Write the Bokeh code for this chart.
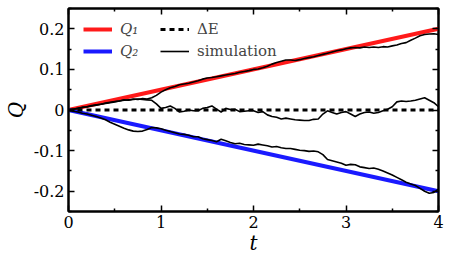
import numpy as np
from bokeh.plotting import figure
from bokeh.models import LinearAxis, FixedTicker, Legend, LegendItem, Range1d
from bokeh.embed import file_html
from bokeh.resources import INLINE

# ---- data ----
t_theory = [0.0, 4.0]
q1_theory = [0.0, 0.2]
q2_theory = [0.0, -0.2]
dE_theory = [0.0, 0.0]

t_sim = [round(0.05 * i, 2) for i in range(81)]
q1_sim = [0, 0.002, 0.004, 0.007, 0.008, 0.011, 0.013, 0.014, 0.017, 0.019,
          0.021, 0.022, 0.025, 0.024, 0.027, 0.026, 0.028, 0.027, 0.030, 0.036,
          0.044, 0.050, 0.055, 0.058, 0.062, 0.064, 0.066, 0.069, 0.072, 0.076,
          0.079, 0.080, 0.082, 0.084, 0.086, 0.088, 0.090, 0.093, 0.095, 0.097,
          0.100, 0.101, 0.104, 0.108, 0.113, 0.117, 0.120, 0.123, 0.123, 0.122,
          0.124, 0.127, 0.129, 0.131, 0.134, 0.137, 0.140, 0.143, 0.146, 0.148,
          0.151, 0.153, 0.154, 0.153, 0.155, 0.154, 0.155, 0.154, 0.156, 0.155,
          0.158, 0.160, 0.164, 0.166, 0.172, 0.177, 0.183, 0.186, 0.187, 0.188,
          0.186]
dE_sim = [0, 0.002, 0.004, 0.006, 0.008, 0.010, 0.012, 0.014, 0.016, 0.018,
          0.020, 0.022, 0.024, 0.025, 0.026, 0.027, 0.026, 0.025, 0.024, 0.015,
          0.004, 0.006, 0.010, 0.004, -0.005, -0.003, 0.000, -0.002, -0.002, 0.004,
          0.006, 0.010, 0.002, -0.005, 0.004, 0.001, 0.002, -0.004, -0.003, -0.002,
          -0.002, -0.006, -0.004, -0.012, -0.016, -0.018, -0.022, -0.020, -0.022, -0.024,
          -0.025, -0.026, -0.026, -0.023, -0.022, -0.010, -0.002, -0.006, -0.010, -0.006,
          -0.004, -0.010, -0.016, -0.010, -0.006, -0.005, -0.008, -0.006, -0.002, 0.002,
          0.008, 0.020, 0.022, 0.021, 0.022, 0.024, 0.027, 0.030, 0.024, 0.018,
          0.008]
q2_sim = [0, -0.003, -0.005, -0.008, -0.010, -0.013, -0.016, -0.020, -0.024, -0.030,
          -0.035, -0.040, -0.045, -0.049, -0.052, -0.053, -0.052, -0.048, -0.043, -0.044,
          -0.046, -0.050, -0.053, -0.056, -0.059, -0.060, -0.062, -0.066, -0.066, -0.071,
          -0.073, -0.075, -0.078, -0.072, -0.076, -0.080, -0.083, -0.082, -0.085, -0.086,
          -0.087, -0.084, -0.086, -0.088, -0.091, -0.090, -0.093, -0.095, -0.095, -0.097,
          -0.099, -0.100, -0.102, -0.101, -0.103, -0.110, -0.122, -0.125, -0.128, -0.131,
          -0.136, -0.134, -0.135, -0.140, -0.142, -0.144, -0.143, -0.146, -0.150, -0.155,
          -0.160, -0.166, -0.172, -0.178, -0.182, -0.186, -0.193, -0.200, -0.205, -0.203,
          -0.195]

x_ticks = [0, 1, 2, 3, 4]
x_minor = [0.5, 1.5, 2.5, 3.5]
y_ticks = [-0.2, -0.1, 0.0, 0.1, 0.2]
y_minor = [-0.25, -0.15, -0.05, 0.05, 0.15, 0.25]
y_labels = {-0.2: "-0.2", -0.1: "-0.1", 0.0: "0", 0.1: "0.1", 0.2: "0.2"}

SERIF = "DejaVu Serif"

p = figure(frame_width=370, frame_height=203,
           x_range=Range1d(0, 4), y_range=Range1d(-0.25, 0.25),
           output_backend="svg", toolbar_location=None,
           x_axis_type=None, y_axis_type=None,
           min_border_left=56, min_border_right=10, min_border_top=8, min_border_bottom=0)
p.grid.visible = False
p.outline_line_color = "black"
p.outline_line_width = 2
p.background_fill_color = "white"
p.border_fill_color = "white"

xt = FixedTicker(ticks=x_ticks, minor_ticks=x_minor)
yt = FixedTicker(ticks=y_ticks, minor_ticks=y_minor)


def style(ax, labels=True):
    ax.axis_line_width = 2
    ax.axis_line_color = "black"
    ax.major_tick_in = 6
    ax.major_tick_out = 0
    ax.minor_tick_in = 3
    ax.minor_tick_out = 0
    ax.major_tick_line_width = 1.5
    ax.minor_tick_line_width = 1.5
    ax.major_label_text_font = SERIF
    ax.major_label_text_font_size = "16px"
    ax.major_label_text_color = "black"
    ax.axis_label_text_font = SERIF
    ax.axis_label_text_font_style = "italic"
    ax.axis_label_text_font_size = "20px"
    ax.axis_label_text_color = "black"
    if not labels:
        ax.major_label_standoff = 0


xb = LinearAxis(ticker=xt, axis_label="t")
style(xb)
xb.major_label_standoff = 4
xb.axis_label_standoff = 0
p.add_layout(xb, "below")

yl = LinearAxis(ticker=yt, axis_label="Q", major_label_overrides=y_labels)
style(yl)
yl.major_label_standoff = 4
yl.axis_label_standoff = 3
p.add_layout(yl, "left")

xa = LinearAxis(ticker=xt, major_label_overrides={v: "" for v in x_ticks})
style(xa, labels=False)
p.add_layout(xa, "above")
yr = LinearAxis(ticker=yt, major_label_overrides={v: "" for v in y_ticks})
style(yr, labels=False)
p.add_layout(yr, "right")

r_q1 = p.line(t_theory, q1_theory, line_color="#ff1a1a", line_width=4)
r_q2 = p.line(t_theory, q2_theory, line_color="#1a1aff", line_width=4)
r_de = p.line(t_theory, dE_theory, line_color="black", line_width=3, line_dash="5 4")
r_s1 = p.line(t_sim, q1_sim, line_color="black", line_width=1.6)
r_s2 = p.line(t_sim, dE_sim, line_color="black", line_width=1.6)
r_s3 = p.line(t_sim, q2_sim, line_color="black", line_width=1.6)


def make_legend(items, loc, style_):
    lg = Legend(items=items, location=loc, orientation="vertical",
                background_fill_alpha=0, border_line_alpha=0,
                padding=0, margin=0, spacing=2, label_height=20,
                glyph_width=29, glyph_height=20, label_standoff=8,
                label_text_font=SERIF, label_text_font_size="15px",
                label_text_font_style=style_)
    p.add_layout(lg, "center")
    return lg


make_legend([LegendItem(label="Q\u2081", renderers=[r_q1]),
             LegendItem(label="Q\u2082", renderers=[r_q2])], (15, 150), "italic")
make_legend([LegendItem(label="\u0394E", renderers=[r_de]),
             LegendItem(label="simulation", renderers=[r_s1])], (92, 150), "normal")

open("out.html", "w").write(file_html(p, INLINE))
